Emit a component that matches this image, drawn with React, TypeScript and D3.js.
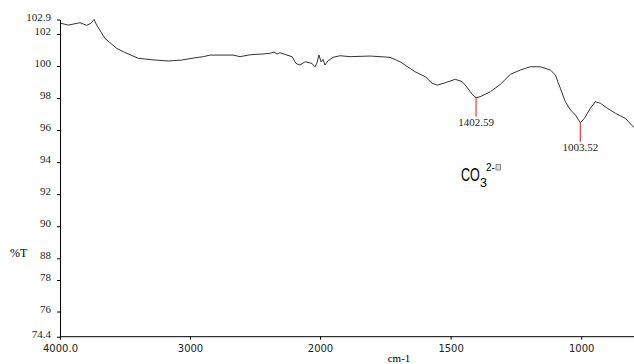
import React, {useEffect, useRef} from 'react'
import * as d3 from 'd3'

// spectrum trace (wavenumber cm-1, %T)
const wavenumbers = [
  3992, 3936, 3846, 3795, 3762, 3738, 3718, 3654, 3564, 3513, 3398, 3269, 3167, 3064,
  2962, 2898, 2846, 2669, 2615, 2538, 2438, 2385, 2354, 2331, 2308, 2254, 2215, 2185,
  2154, 2115, 2062, 2038, 2023, 2008, 1996, 1988, 1981, 1969, 1950, 1923, 1885, 1808,
  1732, 1693, 1636, 1597, 1571, 1551, 1521, 1482, 1456, 1444, 1417, 1402.59, 1387, 1348,
  1310, 1271, 1233, 1195, 1156, 1118, 1099, 1080, 1061, 1041, 1022, 1003.52, 988, 965,
  946, 926, 900, 869, 831, 798
]
const transmittance = [
  102.66, 102.55, 102.70, 102.54, 102.66, 102.91, 102.55, 101.72, 101.10, 100.89, 100.48, 100.37, 100.31, 100.37,
  100.51, 100.58, 100.68, 100.68, 100.58, 100.70, 100.75, 100.79, 100.87, 100.75, 100.83, 100.68, 100.58, 100.16,
  100.06, 100.26, 100.16, 99.95, 100.20, 100.68, 100.26, 100.41, 100.06, 100.33, 100.54, 100.64, 100.58, 100.62,
  100.54, 100.26, 99.64, 99.33, 98.92, 98.81, 98.95, 99.17, 99.02, 98.81, 98.23, 98.02, 98.08, 98.39,
  98.85, 99.48, 99.75, 99.95, 99.95, 99.75, 99.44, 98.61, 97.77, 97.25, 96.94, 96.46, 96.73, 97.36,
  97.77, 97.67, 97.36, 97.05, 96.73, 96.15
]

const xTicks = [4000, 3000, 2000, 1500, 1000]
const yTicks = [102.9, 102, 100, 98, 96, 94, 92, 90, 88, 78, 76, 74.4]

const peakPositions = [1402.59, 1003.52]
const peakValues = [98.02, 96.46]
const peakLabels = ['1402.59', '1003.52']

const App = () => {
  const ref = useRef<SVGSVGElement>(null)

  useEffect(() => {
    const width = 634
    const svg = d3.select(ref.current)
    svg.selectAll('*').remove()

    // broken scales like the instrument printout
    const x = d3.scaleLinear()
      .domain([4000, 2000, 798])
      .range([60, 320, width])
    const y = d3.scaleLinear()
      .domain([74.4, 78, 88, 102.9])
      .range([336.7, 280, 258.3, 19.5])

    const line = d3.line<number>()
      .x((d, i) => x(wavenumbers[i]))
      .y(d => y(d))

    svg.append('path')
      .datum(transmittance)
      .attr('fill', 'none')
      .attr('stroke', '#333')
      .attr('stroke-width', 1)
      .attr('d', line)

    // y axis
    const yAxis = svg.append('g')
      .attr('transform', 'translate(60,0)')
      .call(d3.axisLeft(y).tickValues(yTicks).tickSize(3).tickSizeOuter(0).tickPadding(6)
        .tickFormat(d => String(d)))
    yAxis.selectAll('text')
      .attr('font-family', '"Liberation Serif", serif')
      .attr('font-size', 11)
      .attr('dy', '0.05em')
      .attr('fill', '#222')

    // x axis
    const xAxis = svg.append('g')
      .attr('transform', 'translate(0,336.7)')
      .call(d3.axisBottom(x).tickValues(xTicks).tickSize(3).tickSizeOuter(0).tickPadding(5)
        .tickFormat(d => d === 4000 ? '4000.0' : String(d)))
    xAxis.selectAll('text')
      .attr('font-family', '"DejaVu Sans", sans-serif')
      .attr('font-size', 10)
      .attr('fill', '#222')
    xAxis.select('.domain').attr('d', `M60,0H${width}`)

    svg.append('text')
      .attr('x', 399).attr('y', 362)
      .attr('text-anchor', 'middle')
      .attr('font-family', '"Liberation Serif", serif')
      .attr('font-size', 11)
      .text('cm-1')

    svg.append('text')
      .attr('x', 10).attr('y', 257)
      .attr('font-family', '"Liberation Serif", serif')
      .attr('font-size', 12)
      .text('%T')

    // peak markers
    const peaks = svg.selectAll('.peak')
      .data(peakPositions)
      .join('g')
      .attr('class', 'peak')
    peaks.append('line')
      .attr('x1', d => x(d)).attr('x2', d => x(d))
      .attr('y1', (d, i) => y(peakValues[i]))
      .attr('y2', (d, i) => y(peakValues[i]) + 19)
      .attr('stroke', '#e8151b')
      .attr('stroke-width', 1)
    peaks.append('text')
      .attr('x', d => x(d))
      .attr('y', (d, i) => y(peakValues[i]) + 28.5)
      .attr('text-anchor', 'middle')
      .attr('font-family', '"Liberation Serif", serif')
      .attr('font-size', 11)
      .attr('fill', '#222')
      .text((d, i) => peakLabels[i])

    // CO3 2- annotation
    const co = svg.append('g').attr('transform', 'translate(461,181)')
    co.append('text')
      .attr('transform', 'scale(0.66,1)')
      .attr('font-family', '"Liberation Sans", sans-serif')
      .attr('font-size', 19)
      .text('CO')
    co.append('text')
      .attr('x', 19).attr('y', 5.7)
      .attr('font-family', '"Liberation Sans", sans-serif')
      .attr('font-size', 12.5)
      .text('3')
    co.append('text')
      .attr('x', 25).attr('y', -10.5)
      .attr('font-family', '"Liberation Sans", sans-serif')
      .attr('font-size', 10)
      .text('2-')
    co.append('rect')
      .attr('x', 35).attr('y', -16.5)
      .attr('width', 4.5).attr('height', 5.5)
      .attr('fill', '#ddd')
      .attr('stroke', '#777')
      .attr('stroke-width', 0.8)
  }, [])

  return <div style={{position: 'absolute', left: 0, top: 0}}>
    <svg ref={ref} width={634} height={364} style={{display: 'block', background: '#fff'}} />
  </div>
}

export default App
